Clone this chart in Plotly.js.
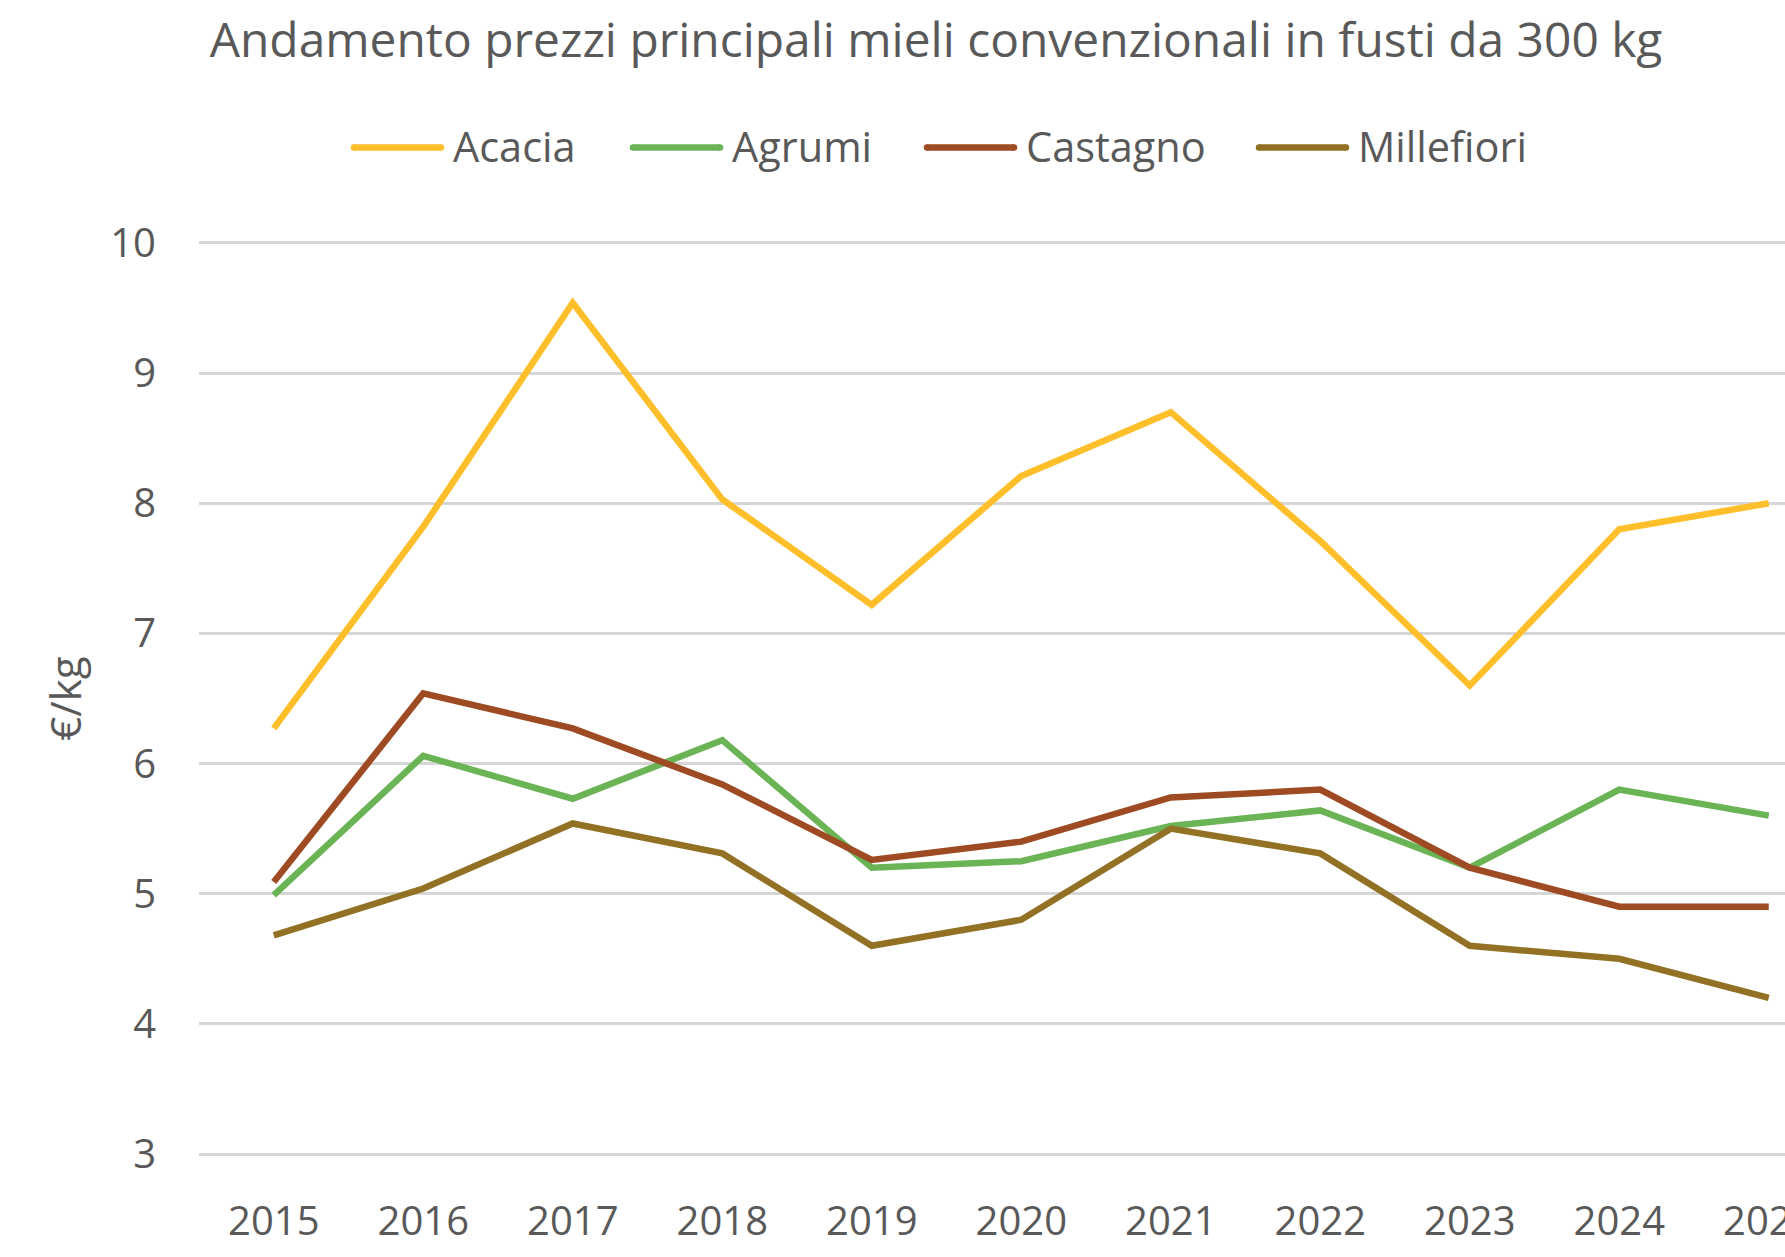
<!DOCTYPE html>
<html>
<head>
<meta charset="utf-8">
<script src="https://cdn.plot.ly/plotly-3.0.1.min.js"></script>
<style>
  html, body { margin: 0; padding: 0; background: #ffffff; overflow: hidden; }
  #chart { width: 1785px; height: 1257px; }
</style>
</head>
<body>
<div id="chart"></div>
<script>
// ---- Data ----
const years = [2015, 2016, 2017, 2018, 2019, 2020, 2021, 2022, 2023, 2024, 2025];
const acacia     = [6.27, 7.82, 9.54, 8.03, 7.22, 8.21, 8.70, 7.71, 6.60, 7.80, 8.00];
const agrumi     = [4.99, 6.06, 5.73, 6.18, 5.20, 5.25, 5.52, 5.64, 5.20, 5.80, 5.60];
const castagno   = [5.09, 6.54, 6.27, 5.84, 5.26, 5.40, 5.74, 5.80, 5.20, 4.90, 4.90];
const millefiori = [4.68, 5.04, 5.54, 5.31, 4.60, 4.80, 5.50, 5.31, 4.60, 4.50, 4.20];
const seriesNames = ["Acacia", "Agrumi", "Castagno", "Millefiori"];
const yTicks = [3, 4, 5, 6, 7, 8, 9, 10];

const titleText = "Andamento prezzi principali mieli convenzionali in fusti da 300 kg";
const yTitleText = "€/kg";

// ---- Styles ----
const colors = ["#FFBF2B", "#6AB456", "#9E4A22", "#937124"];
const textColor = "#595959";
const fontFamily = "'Open Sans', 'Noto Sans', 'DejaVu Sans', sans-serif";

// plot-area geometry (pixels)
const W = 1785, H = 1257;
const plotL = 199, plotR = W;          // plot area runs off the right edge, as in the reference
const plotTop = 240.55, plotBot = H - 100.65;
const plotW = plotR - plotL, plotH = plotBot - plotTop;

// custom legend layout (pixels): long line swatches like the reference
const legendY = 147;
const legendSwatchStart = [351, 630, 924, 1256];
const swatchLen = 93, swatchTextGap = 7;
const px2paperX = px => (px - plotL) / plotW;
const px2paperY = py => (plotBot - py) / plotH;

const seriesData = [acacia, agrumi, castagno, millefiori];
const traces = seriesData.map((vals, i) => ({
  type: "scatter",
  mode: "lines",
  name: seriesNames[i],
  x: years,
  y: vals,
  line: { color: colors[i], width: 6.5, shape: "linear" },
  hoverinfo: "x+y+name",
  showlegend: false
}));

const legendShapes = seriesNames.map((n, i) => ({
  type: "line",
  xref: "paper", yref: "paper",
  x0: px2paperX(legendSwatchStart[i] + 3), x1: px2paperX(legendSwatchStart[i] + swatchLen - 3),
  y0: px2paperY(legendY), y1: px2paperY(legendY),
  line: { color: colors[i], width: 6.5 }
}));
const legendCaps = [];
seriesNames.forEach((n, i) => {
  [legendSwatchStart[i] + 3, legendSwatchStart[i] + swatchLen - 3].forEach(cx => {
    legendCaps.push({
      type: "circle",
      xref: "paper", yref: "paper",
      xsizemode: "pixel", ysizemode: "pixel",
      xanchor: px2paperX(cx), yanchor: px2paperY(legendY),
      x0: -3.25, x1: 3.25, y0: -3.25, y1: 3.25,
      fillcolor: colors[i], line: { width: 0 }
    });
  });
});
const legendLabels = seriesNames.map((n, i) => ({
  text: n,
  xref: "paper", yref: "paper",
  x: px2paperX(legendSwatchStart[i] + swatchLen + swatchTextGap),
  y: px2paperY(legendY - 2),
  xanchor: "left", yanchor: "middle",
  showarrow: false,
  font: { family: fontFamily, size: 41.5, color: textColor }
}));

const layout = {
  width: W,
  height: H,
  paper_bgcolor: "#ffffff",
  plot_bgcolor: "#ffffff",
  font: { family: fontFamily, color: textColor, size: 40 },
  margin: { l: plotL, r: 0, t: plotTop, b: H - plotBot, pad: 0 },
  title: {
    text: titleText,
    font: { family: fontFamily, size: 47.9, color: textColor },
    x: 0.5244, xref: "container", xanchor: "center",
    y: 0.968, yref: "container", yanchor: "middle"
  },
  showlegend: false,
  shapes: legendShapes.concat(legendCaps),
  annotations: legendLabels,
  xaxis: {
    type: "linear",
    range: [2014.5, 2014.5 + plotW / 149.5],
    tickmode: "array",
    tickvals: years,
    ticktext: years.map(String),
    showgrid: false,
    zeroline: false,
    showline: false,
    ticks: "",
    ticklabelstandoff: 38,
    ticklabeloverflow: "allow",
    tickfont: { family: fontFamily, size: 40, color: textColor },
    fixedrange: true
  },
  yaxis: {
    range: [2.985, 10.015],
    tickmode: "array",
    tickvals: yTicks,
    ticktext: yTicks.map(String),
    showgrid: true,
    gridcolor: "#D6D6D6",
    gridwidth: 2.8,
    zeroline: false,
    showline: false,
    ticks: "",
    ticklabelstandoff: 42,
    tickfont: { family: fontFamily, size: 40, color: textColor },
    title: {
      text: yTitleText,
      font: { family: fontFamily, size: 42, color: textColor },
      standoff: 15
    },
    fixedrange: true
  }
};

Plotly.newPlot("chart", traces, layout, { displayModeBar: false, responsive: false });
</script>
</body>
</html>
